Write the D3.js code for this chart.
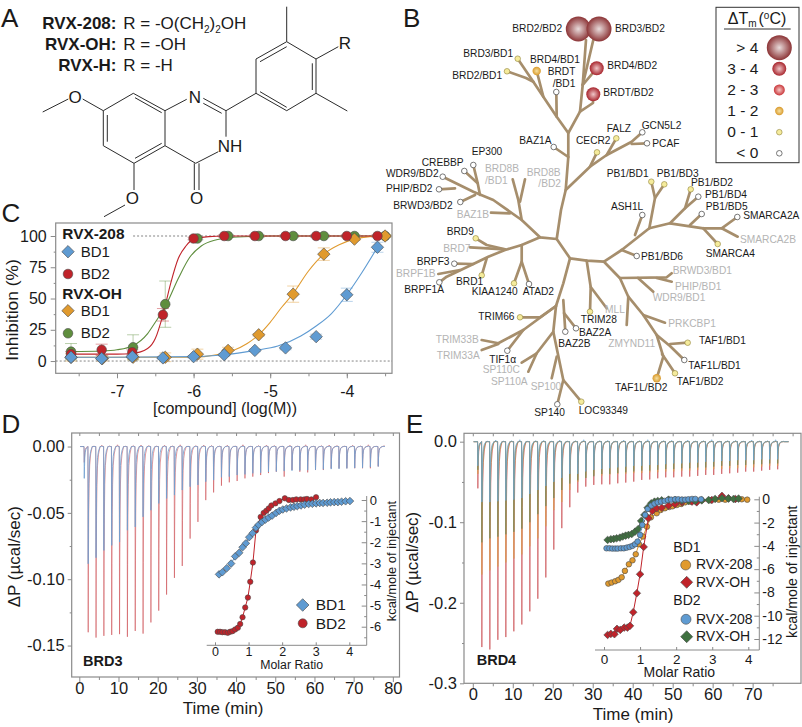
<!DOCTYPE html>
<html>
<head>
  <title>RVX-208 figure</title>
  <script src="https://d3js.org/d3.v7.min.js"></script>
  <style>
    * { margin: 0; box-sizing: border-box; }
    body { background: #fff; }
    svg { display: block; }
    text { font-family: "Liberation Sans", Arial, sans-serif; fill: #1a1a1a; }
    .tick text { font-family: "Liberation Sans", Arial, sans-serif; }
  </style>
</head>
<body>
<script>
// ---- panel C: inhibition curves, log10 concentration vs %
const logConc208 = [-7.6, -7.2, -6.8, -6.4, -6, -5.6, -5.2, -4.8, -4.4, -4, -3.6];
const logConcOH = [-7.6, -7.19, -6.79, -6.37, -5.95, -5.55, -5.15, -4.7, -4.3, -3.9, -3.5];
const inhib208BD1 = [3, 2, 3.5, 2.5, 3.5, 5, 8.5, 10.5, 19.5, 53, 91];
const inhib208BD2 = [5.5, 9, 7, 37, 98, 100, 100, 100, 100, 100, 100];
const inhibOHBD1 = [3, 2, 3, 3, 5.5, 8.5, 21, 53.5, 85.5, 97.5, 100];
const inhibOHBD2 = [7.5, 3, 11, 45.5, 98, 100, 100, 100, 100, 100, 100];
const err208BD1 = [1, 1, 1, 1, 1, 1, 1, 1.5, 2, 5.3, 4];
const err208BD2 = [2, 4.5, 2, 5, 1, 1, 1, 1, 1, 1, 1];
const errOHBD1 = [3, 2, 2, 3.5, 4, 2.5, 1, 6.5, 5, 1, 1];
const errOHBD2 = [6.5, 1, 10, 18.5, 1, 1, 1, 1, 1, 1, 1];
const fit208BD1 = [[-7.6, 3], [-6, 3.5], [-5.6, 5], [-5.2, 8.5], [-4.9, 12], [-4.6, 20], [-4.4, 28], [-4.2, 38], [-4, 53], [-3.8, 71], [-3.6, 91]];
const fit208BD2 = [[-7.6, 5.5], [-7, 5.5], [-6.8, 6], [-6.6, 10], [-6.5, 18], [-6.4, 37], [-6.3, 62], [-6.2, 82], [-6.1, 92], [-6, 97.5], [-5.8, 99.5], [-5.6, 100], [-3.6, 100]];
const fitOHBD1 = [[-7.6, 3], [-6, 3], [-5.7, 5], [-5.5, 8], [-5.3, 14], [-5.15, 21], [-5, 31], [-4.85, 43], [-4.7, 54], [-4.5, 72], [-4.3, 85.5], [-4.1, 93], [-3.9, 97.5], [-3.7, 99.5], [-3.5, 100]];
const fitOHBD2 = [[-7.6, 7.5], [-7.2, 8], [-7, 9], [-6.8, 12], [-6.6, 22], [-6.5, 31], [-6.35, 46], [-6.2, 66], [-6.05, 83], [-5.9, 92], [-5.7, 97], [-5.5, 99], [-5, 100], [-3.5, 100]];

// ---- panel D: BRD3 ITC
const injTimes = [1.2, 2.2, 4.2, 6.2, 8.2, 10.2, 12.2, 14.2, 16.2, 18.2, 20.2, 22.2, 24.2, 26.2, 28.2, 30.2, 32.2, 34.2, 36.2, 38.2, 40.2, 42.2, 44.2, 46.2, 48.2, 50.2, 52.2, 54.2, 56.2, 58.2, 60.2, 62.2, 64.2, 66.2, 68.2, 70.2, 72.2, 74.2, 76.2];
const brd3PeakBD2 = [-.012, -.14, -.144, -.1427, -.142, -.1414, -.1434, -.139, -.141, -.1326, -.1237, -.1116, -.099, -.09, -.0694, -.0568, -.0404, -.0346, -.0295, -.027, -.026, -.024, -.0227, -.0215, -.02, -.019, -.0227, -.0177, -.019, -.0195, -.0177, -.0177, -.0164, -.0164, -.0164, -.0164, -.0164, -.0164, -.015];
const brd3PeakBD1 = [-.024, -.0884, -.0838, -.0783, -.0745, -.072, -.0631, -.0606, -.053, -.048, -.0429, -.0391, -.0366, -.0328, -.0303, -.029, -.0265, -.0253, -.0232, -.0227, -.0215, -.021, -.0202, -.0197, -.0192, -.0188, -.0185, -.0182, -.018, -.0178, -.0175, -.0172, -.017, -.0168, -.0165, -.0162, -.016, -.0155, -.015];
const brd3MolarBD1 = [.12, .22, .35, .48, .6, .72, .82, .92, 1.02, 1.12, 1.22, 1.3, 1.4, 1.5, 1.6, 1.7, 1.82, 1.92, 2.02, 2.13, 2.25, 2.35, 2.45, 2.56, 2.67, 2.79, 2.9, 3.01, 3.12, 3.22, 3.34, 3.44, 3.55, 3.66, 3.77, 3.89, 4.02];
const brd3HeatBD1 = [-3.52, -3.42, -3.23, -3.01, -2.67, -2.5, -2.24, -2.05, -1.76, -1.57, -1.31, -1.17, -1.04, -.93, -.83, -.74, -.61, -.51, -.45, -.4, -.35, -.32, -.29, -.26, -.22, -.19, -.18, -.16, -.14, -.14, -.13, -.11, -.1, -.1, -.08, -.06, -.05];
const brd3MolarBD2 = [.08, .15, .22, .3, .38, .45, .52, .6, .68, .75, .82, .9, .98, 1.05, 1.13, 1.22, 1.36, 1.45, 1.53, 1.6, 1.68, 1.8, 1.92, 2.08, 2.2, 2.32, 2.42, 2.55, 2.66, 2.74, 2.87, 3.01];
const brd3HeatBD2 = [-6.24, -6.24, -6.26, -6.26, -6.29, -6.24, -6.21, -6.13, -6.05, -5.87, -5.55, -5.09, -4.62, -3.87, -2.96, -1.44, -.8, -.61, -.51, -.4, -.26, -.16, -.05, .08, 0, 0, .03, .03, .03, .05, .03, .13];

// ---- panel E: BRD4 ITC
const brd4PeakOHBD1 = [-.058, -.255, -.258, -.246, -.2426, -.2355, -.227, -.2107, -.195, -.1686, -.134, -.1074, -.0814, -.0632, -.0558, -.0537, -.053, -.053, -.0517, -.0508, -.0496, -.0475, -.047, -.0455, -.0443, -.0443, -.0434, -.0434, -.0425, -.0413, -.0413, -.04, -.0393, -.0385, -.0372, -.0372, -.036, -.035, -.0343];
const brd4Peak208BD1 = [-.04, -.165, -.16, -.155, -.15, -.145, -.14, -.13, -.12, -.105, -.085, -.075, -.06, -.05, -.045, -.042, -.042, -.041, -.04, -.04, -.039, -.039, -.038, -.038, -.037, -.037, -.036, -.036, -.035, -.035, -.034, -.034, -.033, -.033, -.032, -.032, -.031, -.03, -.03];
const brd4PeakOHBD2 = [-.035, -.125, -.12, -.118, -.115, -.112, -.108, -.1, -.09, -.08, -.07, -.06, -.052, -.048, -.045, -.043, -.04, -.04, -.039, -.038, -.037, -.036, -.036, -.035, -.034, -.034, -.033, -.033, -.032, -.032, -.031, -.03, -.03, -.029, -.029, -.028, -.028, -.027, -.027];
const brd4Peak208BD2 = [-.03, -.075, -.075, -.074, -.073, -.072, -.07, -.065, -.06, -.055, -.05, -.045, -.04, -.04, -.037, -.035, -.034, -.033, -.032, -.031, -.03, -.03, -.029, -.029, -.028, -.027, -.027, -.026, -.026, -.025, -.025, -.024, -.024, -.023, -.023, -.023, -.022, -.022, -.022];
const brd4Molar208BD1 = [.12, .21, .31, .4, .49, .58, .69, .79, .88, .97, 1.08, 1.19, 1.3, 1.46, 1.57, 1.69, 1.81, 1.9, 2.02, 2.14, 2.25, 2.39, 2.53, 2.71, 2.94, 3.18, 3.36, 3.64, 3.82, 3.97];
const brd4Heat208BD1 = [-7.24, -7.15, -7.04, -6.92, -6.7, -6.15, -5.58, -5.24, -4.72, -3.86, -3.2, -2.35, -1.55, -1.2, -.92, -.77, -.66, -.6, -.49, -.4, -.26, -.2, -.14, -.09, -.09, -.03, -.03, 0, 0, -.03];
const brd4MolarOHBD1 = [.1, .19, .29, .36, .45, .56, .65, .72, .81, .91, 1, 1.1, 1.23, 1.34, 1.46, 1.6, 1.79, 1.97, 2.16, 2.44, 2.57, 2.99, 3.27, 3.45, 3.64];
const brd4HeatOHBD1 = [-11.65, -11.56, -11.59, -11.13, -11.22, -11.02, -11.02, -10.87, -9.7, -8.07, -6.44, -4.09, -1.63, -1, -.77, -.72, -.54, -.43, -.26, -.2, -.26, -.06, .29, .09, .03];
const brd4Molar208BD2 = [.07, .15, .23, .31, .38, .47, .55, .63, .71, .79, .86, .93, 1, 1.06, 1.14, 1.21, 1.31, 1.4, 1.49, 1.58, 1.68, 1.77, 1.86, 1.97, 2.06, 2.16, 2.25, 2.34, 2.44, 2.53, 2.69];
const brd4Heat208BD2 = [-4.21, -4.21, -4.23, -4.23, -4.23, -4.21, -4.21, -4.15, -4.09, -4, -3.86, -3.63, -3.06, -2.2, -1.34, -.83, -.54, -.37, -.26, -.2, -.14, -.06, -.03, 0, 0, -.03, -.03, 0, .03, .03, 0];
const brd4MolarOHBD2 = [.1, .19, .27, .35, .44, .52, .6, .68, .77, .86, .95, 1.03, 1.12, 1.21, 1.31, 1.4, 1.49, 1.6, 1.79, 1.97, 2.16, 2.34, 2.53, 2.71, 2.9, 3.08, 3.27, 3.45, 3.59, 3.73];
const brd4HeatOHBD2 = [-3.49, -3.43, -3.4, -3.35, -3.29, -3.2, -3.12, -3.06, -2.98, -2.78, -2.55, -1.86, -1.34, -.72, -.34, -.2, -.14, -.09, -.03, -.06, -.11, -.14, -.14, -.09, -.06, .03, .09, .06, .03, .06];

// injection shape, fraction of peak depth against minutes after the injection
const peakOffsets = [0, .07, .13, .2, .3, .45, .7, 1.1];
const peakFractions = [0, 1, .62, .36, .2, .1, .04, 0];
// small upward wiggles of the baseline between injections
const baselineWiggleD = [.0008, .0003, .001, .0004, .0013, .0002, .0007, .0011];
const baselineWiggleE = [.0016, .0006, .002, .0008, .0012, .0024, .0005, .0014];

// ---- panel B: kinome style tree, drawing units of the figure
const branches = [
  [[556.7, 239], [561, 210], [565.7, 190], [568.3, 157], [568.3, 133], [580, 111.7], [582.7, 85], [586, 40]],
  [[582.7, 85], [593.3, 40]], [[580, 111.7], [593, 103], [593.3, 94]], [[582.7, 85], [596.7, 68.3]],
  [[568.3, 133], [556.7, 116.7], [543.3, 96.7], [533.3, 81.7], [517.7, 58.7]],
  [[533.3, 81.7], [526, 78], [507, 71.3]], [[543.3, 96.7], [536.7, 71]], [[556.7, 116.7], [556.3, 92]],
  [[568.3, 157], [553.7, 147]],
  [[565.7, 190], [590, 166.7], [606.7, 155], [631.7, 141.7], [642.3, 132.3]],
  [[631.7, 144], [647, 143.3]], [[606.7, 155], [616.3, 138.3]], [[590, 166.7], [597, 152.3]],
  [[556.7, 239], [540, 237.3], [521.7, 220], [493.3, 200], [473.3, 191.7], [442.7, 176.7]],
  [[455, 188.3], [439, 189.3]], [[480, 195], [477.7, 183.3], [464.3, 171]], [[477.7, 183.3], [473.3, 165]],
  [[475, 195], [460.3, 202]], [[510, 213.3], [491, 212.7]],
  [[521.7, 220], [518.3, 200], [512.7, 179.3]], [[520, 201.7], [525, 179.3]],
  [[540, 237.3], [521.7, 245], [505, 250], [488.3, 256.7], [473.3, 264], [446.7, 276.7], [439.3, 282.3]],
  [[505, 249.3], [486.7, 245], [475.7, 238.3]], [[505, 249.3], [470, 247.3]],
  [[473.3, 264], [454.3, 263.7]], [[460, 270], [438.3, 274]], [[486.7, 258.3], [481.7, 275.3]],
  [[521.7, 245], [521.7, 261.7], [514, 283.3]], [[521.7, 261.7], [529, 284]],
  [[556.7, 239], [570, 258.3], [586.7, 260.7], [604, 261.7], [621.7, 250], [649.3, 228.3], [670, 223.3], [703.3, 228.3], [721.7, 228.3], [737.3, 217]],
  [[635, 235], [642.3, 215]], [[649.3, 228.3], [655, 198], [651.3, 181.7]], [[655, 198], [664.3, 184.3]],
  [[670, 223.3], [685, 208.3], [690.7, 189.3]], [[685, 208.3], [698.3, 196.7]], [[690, 225], [701.7, 214]],
  [[721.7, 228.3], [737.7, 236.7]], [[703.3, 228.3], [717.7, 244]], [[621.7, 250], [636.7, 256]],
  [[604, 261.7], [620, 278.3], [628.3, 296.7], [643.3, 315], [656.7, 335], [670, 346], [684.3, 360]],
  [[620, 278], [666.7, 277.3], [671.7, 273.3]], [[656.7, 278], [671.7, 281.7]], [[638, 278], [653.3, 291.7]],
  [[628.3, 296.7], [626.7, 325]], [[643.3, 315], [665, 322.7]], [[670, 344], [687.7, 342.7]],
  [[656.7, 335], [663.3, 356.7], [656.7, 378.3]], [[662, 354], [675, 373.3]],
  [[570, 258.3], [563.3, 283.3], [556, 306], [553.3, 331.7], [563.3, 380], [557.3, 404.3]], [[563.3, 380], [581.3, 401.7]],
  [[563.3, 300], [565.3, 331.7]], [[564, 313], [576, 328.3]],
  [[586.7, 260.7], [590.7, 287], [590, 311.7]], [[590.7, 287], [606.7, 308.3]],
  [[556, 306], [540, 317.3], [520, 317.3]], [[556, 306], [523.3, 330], [498.3, 343.3], [481.7, 340]], [[498.3, 344], [481.7, 350]],
  [[523.3, 330], [507.3, 350.7]], [[553.3, 331.7], [536.7, 353.3], [521.7, 362.7]], [[536.7, 353.3], [528.3, 371.7]],
  [[556.7, 356.7], [551.7, 378.3]]
];
// x, y, size class: 0 white, 1 yellow, 2 orange, 4 dark red, 5 big ball
const treeNodes = [
  [578.3, 29, 5], [599, 29, 5], [596.7, 68.3, 4], [593.3, 94.3, 4], [517.7, 58.7, 1], [507, 71.3, 1], [536.7, 71, 2], [556.3, 92, 0],
  [553.7, 147, 0], [597, 152.3, 1], [616.3, 138.3, 1], [642.3, 132.3, 0], [647, 143.3, 0],
  [473.3, 165, 0], [464.3, 171, 0], [442.7, 176.7, 0], [439, 189.3, 0], [460.3, 202, 0],
  [475.7, 238.3, 1], [454.3, 263.7, 0], [481.7, 275.3, 1], [439.3, 282.3, 0], [514, 283.3, 1], [529, 284, 0],
  [651.3, 181.7, 1], [664.3, 184.3, 1], [690.7, 189.3, 1], [698.3, 196.7, 0], [701.7, 214, 0], [642.3, 215, 0], [737.3, 217, 0], [717.7, 244, 1], [636.7, 256, 0],
  [590, 311.7, 1], [576, 328.3, 0], [565.3, 331.7, 0], [520, 317.3, 1], [507.3, 350.7, 0], [557.3, 404.3, 0], [581.3, 401.7, 1],
  [687.7, 342.7, 1], [684.3, 360, 0], [675, 373.3, 1], [656.7, 378.3, 2]
];
const treeNames = ["BRD2/BD2", "BRD3/BD2", "BRD3/BD1", "BRD2/BD1", "BRD4/BD1", "BRDT", "/BD1", "BRD4/BD2", "BRDT/BD2", "FALZ", "GCN5L2", "PCAF", "BAZ1A", "CECR2", "EP300", "CREBBP", "WDR9/BD2", "PHIP/BD2", "BRWD3/BD2", "BRD9", "BRPF3", "BRPF1A", "BRD1", "KIAA1240", "ATAD2", "PB1/BD1", "PB1/BD3", "PB1/BD2", "PB1/BD4", "PB1/BD5", "ASH1L", "SMARCA2A", "SMARCA4", "PB1/BD6", "TRIM28", "BAZ2A", "BAZ2B", "TAF1/BD1", "TAF1L/BD1", "TAF1/BD2", "TAF1L/BD2", "TRIM66", "TIF1α", "SP140", "LOC93349"];
const treeNamePos = [[512.3, 32.3], [615, 32.3], [463.3, 56.7], [452.3, 79.3], [530, 63.3], [547.7, 75], [552.7, 87.3], [607.3, 69], [603.3, 96], [606.7, 132.3], [641.7, 129], [652.3, 146.7], [519.3, 144.3], [576, 144.3], [471.7, 155.3], [421.7, 165.7], [386, 177.3], [386, 191.7], [393.3, 209.3], [446.7, 235], [416.7, 265.3], [404.3, 293.3], [456, 285], [471.7, 295.3], [522.7, 295.3], [606.7, 177.3], [656.7, 176.7], [691, 185.7], [705, 197.7], [705.7, 210], [611, 209.7], [743.3, 218.7], [705.7, 257], [641, 259.7], [580.7, 323.3], [579, 336], [558.3, 346.7], [699, 344.3], [688.3, 368.7], [676.7, 385.3], [615, 391.3], [478.3, 320], [489.3, 363.3], [534.3, 416], [578.7, 414.3]];
const grayNames = ["BRD8B", "/BD1", "BRD8B", "/BD2", "BAZ1B", "BRD7", "BRPF1B", "SMARCA2B", "BRWD3/BD1", "PHIP/BD1", "WDR9/BD1", "MLL", "PRKCBP1", "ZMYND11", "TRIM33B", "TRIM33A", "SP110C", "SP110A", "SP100"];
const grayNamePos = [[485, 172.3], [485, 184.3], [526.7, 175.7], [538.3, 187.3], [456.7, 218], [443.3, 252], [396, 277], [740, 243.3], [672.7, 274], [675, 290], [652.7, 300.7], [605, 312.7], [668.3, 327], [608.3, 346.7], [435.7, 343.3], [436.7, 359.3], [482.7, 373.3], [491, 385.3], [530.7, 390]];
const legendRanges = ["> 4", "3 - 4", "2 - 3", "1 - 2", "0 - 1", "< 0"];
const legendClasses = [5, 4, 3, 2, 1, 0];

// ---- panel A: structure, drawing units of the figure
const singleBonds = [
  [[286.7, 41.7], [316, 59]], [[316, 59], [316, 93.3]], [[316, 93.3], [286.7, 110.7]], [[286.7, 110.7], [256, 93.3]], [[256, 93.3], [256, 59]], [[256, 59], [286.7, 41.7]],
  [[286.7, 41.7], [286.7, 6.7]], [[316, 59], [338.3, 46.7]], [[316, 93.3], [347.3, 111]], [[256, 93.3], [226, 110.7]],
  [[226, 110.7], [203.3, 98.3]], [[186.7, 99.3], [165, 110.7]], [[226, 110.7], [226, 136.7]], [[218.3, 151.7], [195.7, 163.3]],
  [[195.7, 163.3], [165, 145.7]], [[165, 145.7], [165, 110.7]], [[165, 110.7], [133.3, 93.3]], [[133.3, 93.3], [103.3, 110.7]],
  [[103.3, 110.7], [103.3, 145.7]], [[103.3, 145.7], [134, 163.3]], [[134, 163.3], [165, 145.7]],
  [[103.3, 110.7], [82.7, 99]], [[68.3, 99], [42.7, 112]], [[134, 163.3], [134, 190]], [[125, 205], [104, 216.7]],
  [[194.3, 163.3], [194.3, 190]], [[199, 163.3], [199, 190]]
];
const innerBonds = [
  [[260, 61.7], [286.7, 46.7]], [[312.3, 63.3], [312.3, 90]], [[260, 91.7], [286.7, 107.3]], [[203.3, 103.3], [221.7, 113.3]],
  [[135, 97.7], [161.7, 112.7]], [[107.3, 115], [107.3, 141.7]], [[135, 158.3], [161.7, 143.3]]
];
const atomLabels = ["O", "N", "NH", "O", "O", "R"];
const atomPos = [[75, 96.7], [195, 96.7], [230, 145.7], [132.3, 198.3], [196.7, 198.3], [345, 43.3]];

const width = 802, height = 727;
const svg = d3.select("body").append("svg").attr("width", width).attr("height", height);
const defs = svg.append("defs");

const colBlue = "#5f9bd2", colRed = "#c0232a", colOrange = "#e09a2e", colGreen = "#5f8e3e", colDkGreen = "#3f7040";
const frameCol = "#8a8a8a";
const markStroke = "#4a4a4a";

function label(g, str, x, y, size, opts = {}) {
  return g.append("text").attr("x", x).attr("y", y).attr("font-size", size)
    .attr("text-anchor", opts.anchor || "start")
    .attr("font-weight", opts.bold ? "bold" : null)
    .style("fill", opts.fill || null)
    .text(str);
}
function vlabel(g, str, x, y, size) {
  return g.append("text").attr("transform", `translate(${x},${y}) rotate(-90)`)
    .attr("font-size", size).attr("text-anchor", "middle").text(str);
}
function marker(g, kind, x, y, size, fill) {
  if (kind === "circle") {
    g.append("circle").attr("cx", x).attr("cy", y).attr("r", size).attr("fill", fill)
      .attr("stroke", markStroke).attr("stroke-width", .6);
  } else {
    const side = size * Math.SQRT2;
    g.append("path").attr("d", d3.symbol().type(d3.symbolSquare).size(side * side)())
      .attr("transform", `translate(${x},${y}) rotate(45)`).attr("fill", fill)
      .attr("stroke", markStroke).attr("stroke-width", .6);
  }
}
function styleAxis(sel, size) {
  sel.attr("font-size", size).attr("font-family", null);
  sel.selectAll(".domain").remove();
  sel.selectAll("line").attr("stroke", frameCol);
  sel.selectAll("text").style("fill", "#1a1a1a");
}
const arange = (a, b, s) => d3.range(0, Math.round((b - a) / s) + 1).map(i => a + i * s);
const intFmt = d3.format("d");

// panel letters
[["A", 1, 26.7], ["B", 403, 26.7], ["C", 1.5, 222], ["D", 1.5, 433], ["E", 406, 433]].forEach(([s, x, y]) => label(svg, s, x, y, 26));

// ================= A
const mol = svg.append("g");
const mx = d3.scaleIdentity(), my = d3.scaleIdentity();
const bondLine = d3.line().x(d => mx(d[0])).y(d => my(d[1]));
mol.selectAll("path.b").data(singleBonds.concat(innerBonds)).enter().append("path")
  .attr("d", bondLine).attr("fill", "none").attr("stroke", "#2b2b2b").attr("stroke-width", 1);
atomLabels.forEach((s, i) => {
  label(mol, s, mx(atomPos[i][0]), my(atomPos[i][1]) + 6, 17, { anchor: "middle" });
});
label(svg, "RVX-208:", 116.5, 29.3, 17, { anchor: "end", bold: true });
label(svg, "RVX-OH:", 116.5, 50, 17, { anchor: "end", bold: true });
label(svg, "RVX-H:", 116.5, 70.7, 17, { anchor: "end", bold: true });
const rt = label(svg, "R = -O(CH", 123.3, 29.3, 17);
rt.append("tspan").attr("dy", 4).attr("font-size", 10).text("2");
rt.append("tspan").attr("dy", -4).text(")");
rt.append("tspan").attr("dy", 4).attr("font-size", 10).text("2");
rt.append("tspan").attr("dy", -4).text("OH");
label(svg, "R = -OH", 123.3, 50, 17);
label(svg, "R = -H", 123.3, 70.7, 17);

// ================= B
function ball(id, inner, outer) {
  const g = defs.append("radialGradient").attr("id", id);
  g.append("stop").attr("offset", "0%").attr("stop-color", inner);
  g.append("stop").attr("offset", "100%").attr("stop-color", outer);
}
ball("cls5", "#e9dcdc", "#8c3436");
ball("cls4", "#efc6c8", "#a8252d");
ball("cls3", "#f6c9c6", "#c9363a");
ball("cls2", "#f6e0a0", "#d99a2c");
const classR = { 5: 12.5, 4: 7, 3: 5.5, 2: 4.2, 1: 2.8, 0: 2.8 };
function treeDot(g, x, y, c) {
  const dot = g.append("circle").attr("cx", x).attr("cy", y).attr("r", classR[c]);
  if (c >= 2) dot.attr("fill", `url(#cls${c})`).attr("stroke", "none");
  else if (c === 1) dot.attr("fill", "#f5eb9c").attr("stroke", "#8e8238").attr("stroke-width", .6);
  else dot.attr("fill", "#fff").attr("stroke", "#555").attr("stroke-width", .8);
}
const tree = svg.append("g");
const tx = d3.scaleIdentity(), ty = d3.scaleIdentity();
const branchLine = d3.line().x(d => tx(d[0])).y(d => ty(d[1]));
tree.selectAll("path").data(branches).enter().append("path")
  .attr("d", branchLine).attr("fill", "none").attr("stroke", "#a68e6c").attr("stroke-width", 2.7)
  .attr("stroke-linecap", "round").attr("stroke-linejoin", "round");
treeNodes.forEach(n => treeDot(tree, tx(n[0]), ty(n[1]), n[2]));
treeNames.forEach((s, i) => label(tree, s, tx(treeNamePos[i][0]), ty(treeNamePos[i][1]), 10.2));
grayNames.forEach((s, i) => label(tree, s, tx(grayNamePos[i][0]), ty(grayNamePos[i][1]), 10.2, { fill: "#b4b4b4" }));

const lg = svg.append("g");
lg.append("rect").attr("x", 716).attr("y", 7.3).attr("width", 83).attr("height", 155.4)
  .attr("fill", "#fff").attr("stroke", "#333").attr("stroke-width", 1);
const lh = label(lg, "ΔT", 757, 24, 16, { anchor: "middle" });
lh.append("tspan").attr("dy", 3).attr("font-size", 10).text("m");
lh.append("tspan").attr("dy", -3).attr("dx", 2).text("(");
lh.append("tspan").attr("dy", -5).attr("font-size", 10).text("o");
lh.append("tspan").attr("dy", 5).text("C)");
lg.append("line").attr("x1", 724).attr("x2", 790.7).attr("y1", 29).attr("y2", 29).attr("stroke", "#333");
const legendY = d3.scalePoint().domain(legendRanges).range([47.7, 153.3]);
legendRanges.forEach((s, i) => {
  label(lg, s, 758.3, legendY(s) + 5, 15.5, { anchor: "end" });
  treeDot(lg, 779.3, legendY(s), legendClasses[i]);
});

// ================= C
const cx = d3.scaleLinear().domain([-7.8, -3.41]).range([55.7, 392]);
const cy = d3.scaleLinear().domain([-9.8, 110.4]).range([373.3, 223]);
const pc = svg.append("g");
pc.append("rect").attr("x", 55.7).attr("y", 223).attr("width", 336.3).attr("height", 150.3)
  .attr("fill", "none").attr("stroke", frameCol).attr("stroke-width", 1.2);
[[0, -7.8], [100, -6.79]].forEach(([v, from]) => {
  pc.append("line").attr("x1", cx(from)).attr("x2", cx(-3.41)).attr("y1", cy(v)).attr("y2", cy(v))
    .attr("stroke", "#666").attr("stroke-width", .8).attr("stroke-dasharray", "2,2");
});
const cxTickLabels = ["-7", "-6", "-5", "-4"];
pc.append("g").attr("transform", "translate(0,373.3)")
  .call(d3.axisBottom(cx).tickValues(arange(-7.5, -3.5, .5)).tickSize(3).tickFormat(""))
  .call(styleAxis, 16);
pc.append("g").attr("transform", "translate(0,373.3)")
  .call(d3.axisBottom(cx).tickValues([-7, -6, -5, -4]).tickSize(5).tickPadding(7).tickFormat((d, i) => cxTickLabels[i]))
  .call(styleAxis, 16);
pc.append("g").attr("transform", "translate(55.7,0)")
  .call(d3.axisLeft(cy).tickValues(arange(12.5, 87.5, 25)).tickSize(2).tickFormat(""))
  .call(styleAxis, 16);
pc.append("g").attr("transform", "translate(55.7,0)")
  .call(d3.axisLeft(cy).tickValues([0, 25, 50, 75, 100]).tickSize(5).tickPadding(4))
  .call(styleAxis, 16);
vlabel(pc, "Inhibition (%)", 18, 310, 17.4);
label(pc, "[compound] (log(M))", 225, 414, 16, { anchor: "middle" });

const fitLine = d3.line().x(d => cx(d[0])).y(d => cy(d[1])).curve(d3.curveMonotoneX);
const cSeries = [
  { fit: fitOHBD2, xs: logConcOH, ys: inhibOHBD2, err: errOHBD2, col: colGreen, kind: "circle" },
  { fit: fitOHBD1, xs: logConcOH, ys: inhibOHBD1, err: errOHBD1, col: colOrange, kind: "diamond" },
  { fit: fit208BD2, xs: logConc208, ys: inhib208BD2, err: err208BD2, col: colRed, kind: "circle" },
  { fit: fit208BD1, xs: logConc208, ys: inhib208BD1, err: err208BD1, col: colBlue, kind: "diamond" }
];
cSeries.forEach(s => {
  pc.append("path").attr("d", fitLine(s.fit)).attr("fill", "none").attr("stroke", s.col).attr("stroke-width", 1.1);
  s.xs.forEach((x, i) => {
    const top = cy(s.ys[i] + s.err[i]), bot = cy(s.ys[i] - s.err[i]);
    pc.append("path").attr("d", `M${cx(x)},${top}V${bot}M${cx(x) - 6},${top}H${cx(x) + 6}M${cx(x) - 6},${bot}H${cx(x) + 6}`)
      .attr("fill", "none").attr("stroke", s.col).attr("stroke-opacity", .55).attr("stroke-width", .8);
  });
});
cSeries.forEach(s => {
  s.xs.forEach((x, i) => {
    if (s.fit === fitOHBD2 && i === 1) return;
    marker(pc, s.kind, cx(x), cy(s.ys[i]), s.kind === "circle" ? 4.8 : 6.2, s.col);
  });
});
label(pc, "RVX-208", 62.3, 239.3, 15.4, { bold: true });
label(pc, "RVX-OH", 62.3, 299, 15.4, { bold: true });
marker(pc, "diamond", 68, 251.7, 6.2, colBlue); label(pc, "BD1", 80.7, 256.7, 15);
marker(pc, "circle", 68, 274, 4.8, colRed); label(pc, "BD2", 80.7, 279, 15);
marker(pc, "diamond", 68, 310.7, 6.2, colOrange); label(pc, "BD1", 80.7, 315.7, 15);
marker(pc, "circle", 68, 333.3, 4.8, colGreen); label(pc, "BD2", 80.7, 338.3, 15);

// ================= ITC helpers
function thermogram(depths, wiggles, tEnd) {
  const pts = [[.2, 0]];
  depths.forEach((d, i) => {
    const t = injTimes[i];
    const next = i + 1 < injTimes.length ? injTimes[i + 1] : tEnd;
    peakOffsets.forEach((o, k) => { if (t + o < next - .05) pts.push([t + o, d * peakFractions[k]]); });
    if (next - t > 1.6) {
      pts.push([t + 1.3, 0]);
      pts.push([t + 1.55, wiggles[i % wiggles.length]]);
      pts.push([t + 1.8, 0]);
    }
  });
  pts.push([tEnd, 0]);
  return pts;
}
function scatter(g, xs, ys, sx, sy, kind, col, r, stroke) {
  const line = d3.line().x(d => sx(d[0])).y(d => sy(d[1]));
  g.append("path").attr("d", line(xs.map((x, i) => [x, ys[i]])))
    .attr("fill", "none").attr("stroke", stroke || col).attr("stroke-width", 1);
  xs.forEach((x, i) => marker(g, kind, sx(x), sy(ys[i]), r, col));
}

// ================= D
const dx = d3.scaleLinear().domain([-1.94, 81.7]).range([71.7, 399.5]);
const dy = d3.scaleLinear().domain([-.1737, .0102]).range([677, 433]);
const pd = svg.append("g");
pd.append("rect").attr("x", 71.7).attr("y", 433).attr("width", 327.8).attr("height", 244)
  .attr("fill", "none").attr("stroke", frameCol).attr("stroke-width", 1.2);
pd.append("g").attr("transform", "translate(0,677)")
  .call(d3.axisBottom(dx).tickValues(arange(5, 75, 10)).tickSize(3).tickFormat(""))
  .call(styleAxis, 16.5);
pd.append("g").attr("transform", "translate(0,677)")
  .call(d3.axisBottom(dx).tickValues(arange(0, 80, 10)).tickSize(5).tickPadding(0))
  .call(styleAxis, 16.5);
pd.append("g").attr("transform", "translate(0,433)")
  .call(d3.axisTop(dx).tickValues(arange(0, 80, 5)).tickSize(-3).tickFormat(""))
  .call(styleAxis, 16.5);
pd.append("g").attr("transform", "translate(71.7,0)")
  .call(d3.axisLeft(dy).tickValues(arange(-.125, -.025, .05)).tickSize(2).tickFormat(""))
  .call(styleAxis, 16.5);
const dyLabels = ["-0.15", "-0.10", "-0.05", "0.00"];
pd.append("g").attr("transform", "translate(71.7,0)")
  .call(d3.axisLeft(dy).tickValues([-.15, -.1, -.05, 0]).tickSize(4).tickPadding(3).tickFormat((d, i) => dyLabels[i]))
  .call(styleAxis, 16.5);
vlabel(pd, "ΔP (µcal/sec)", 20, 556.7, 17);
label(pd, "Time (min)", 223, 714, 17, { anchor: "middle" });
label(pd, "BRD3", 83, 666, 14.5, { bold: true });

const dLine = d3.line().x(d => dx(d[0])).y(d => dy(d[1]));
pd.append("path").attr("d", dLine(thermogram(brd3PeakBD2, baselineWiggleD, 78)))
  .attr("fill", "none").attr("stroke", "#cc4a4e").attr("stroke-width", .75).attr("stroke-opacity", .75);
pd.append("path").attr("d", dLine(thermogram(brd3PeakBD1, baselineWiggleD.map(v => v * .2), 78)))
  .attr("fill", "none").attr("stroke", "#6f9fd0").attr("stroke-width", .9).attr("stroke-opacity", .9);

const dix = d3.scaleLinear().domain([0, 4]).range([215, 349.3]);
const diy = d3.scaleLinear().domain([-6.88, .19]).range([645.3, 496]);
const dIn = svg.append("g");
dIn.append("path").attr("d", "M206.7,645.3H366.7V496").attr("fill", "none").attr("stroke", frameCol).attr("stroke-width", 1);
dIn.append("g").attr("transform", "translate(0,645.3)")
  .call(d3.axisBottom(dix).tickValues([0, 1, 2, 3, 4]).tickSize(-3).tickPadding(2).tickFormat(intFmt))
  .call(styleAxis, 12.5);
dIn.append("g").attr("transform", "translate(366.7,0)")
  .call(d3.axisRight(diy).tickValues(arange(-6.5, -.5, 1)).tickSize(-2.5).tickFormat(""))
  .call(styleAxis, 13);
const diyLabels = ["-6", "-5", "-4", "-3", "-2", "-1", "0"];
dIn.append("g").attr("transform", "translate(366.7,0)")
  .call(d3.axisRight(diy).tickValues([-6, -5, -4, -3, -2, -1, 0]).tickSize(-5).tickPadding(3).tickFormat((d, i) => diyLabels[i]))
  .call(styleAxis, 13);
vlabel(dIn, "kcal/mole of injectant", 395.5, 561, 12.9);
label(dIn, "Molar Ratio", 291.7, 669.3, 12.3, { anchor: "middle" });
scatter(dIn, brd3MolarBD2, brd3HeatBD2, dix, diy, "circle", colRed, 2.7);
scatter(dIn, brd3MolarBD1, brd3HeatBD1, dix, diy, "diamond", colBlue, 3.8);
marker(dIn, "diamond", 302.7, 605, 6.3, colBlue); label(dIn, "BD1", 315.7, 610, 15.5);
marker(dIn, "circle", 302.7, 623.3, 4.5, colRed); label(dIn, "BD2", 315.7, 629.3, 15.5);

// ================= E
const ex = d3.scaleLinear().domain([-2.2, 82.1]).range([464, 801]);
const ey = d3.scaleLinear().domain([-.3, .0104]).range([683.3, 433.3]);
const pe = svg.append("g");
pe.append("rect").attr("x", 464).attr("y", 433.3).attr("width", 337).attr("height", 250)
  .attr("fill", "none").attr("stroke", frameCol).attr("stroke-width", 1.2);
pe.append("g").attr("transform", "translate(0,683.3)")
  .call(d3.axisBottom(ex).tickValues(arange(5, 75, 10)).tickSize(3).tickFormat(""))
  .call(styleAxis, 16.5);
pe.append("g").attr("transform", "translate(0,683.3)")
  .call(d3.axisBottom(ex).tickValues(arange(0, 70, 10)).tickSize(5).tickPadding(0))
  .call(styleAxis, 16.5);
pe.append("g").attr("transform", "translate(0,433.3)")
  .call(d3.axisTop(ex).tickValues(arange(0, 80, 5)).tickSize(-3).tickFormat(""))
  .call(styleAxis, 16.5);
pe.append("g").attr("transform", "translate(464,0)")
  .call(d3.axisLeft(ey).tickValues(arange(-.25, -.05, .1)).tickSize(2).tickFormat(""))
  .call(styleAxis, 16.5);
const eyLabels = ["-0.3", "-0.2", "-0.1", "0.0"];
pe.append("g").attr("transform", "translate(464,0)")
  .call(d3.axisLeft(ey).tickValues([-.3, -.2, -.1, 0]).tickSize(4).tickPadding(3).tickFormat((d, i) => eyLabels[i]))
  .call(styleAxis, 16.5);
vlabel(pe, "ΔP (µcal/sec)", 418, 562.3, 17);
label(pe, "Time (min)", 633, 720, 17, { anchor: "middle" });
label(pe, "BRD4", 476.7, 665.3, 14.5, { bold: true });

const eLine = d3.line().x(d => ex(d[0])).y(d => ey(d[1]));
[[brd4PeakOHBD1, "#c8474c", .1], [brd4Peak208BD1, "#d89a4a", .2], [brd4PeakOHBD2, "#6f8a5a", .2], [brd4Peak208BD2, "#6aa8da", 1]].forEach(([vals, col, k]) => {
  pe.append("path").attr("d", eLine(thermogram(vals, baselineWiggleE.map(v => v * k), 79)))
    .attr("fill", "none").attr("stroke", col).attr("stroke-width", .8).attr("stroke-opacity", .85);
});

const eix = d3.scaleLinear().domain([0, 4]).range([604, 748.3]);
const eiy = d3.scaleLinear().domain([-12, 0]).range([639, 499.3]);
const eIn = svg.append("g");
eIn.append("path").attr("d", "M595,650H759.3V496.7").attr("fill", "none").attr("stroke", frameCol).attr("stroke-width", 1);
eIn.append("g").attr("transform", "translate(0,650)")
  .call(d3.axisBottom(eix).tickValues([0, 1, 2, 3, 4]).tickSize(-3).tickPadding(4).tickFormat(intFmt))
  .call(styleAxis, 13.5);
eIn.append("g").attr("transform", "translate(759.3,0)")
  .call(d3.axisRight(eiy).tickValues(arange(-11, -1, 2)).tickSize(-2.5).tickFormat(""))
  .call(styleAxis, 14);
const eiyLabels = ["-12", "-10", "-8", "-6", "-4", "-2", "0"];
eIn.append("g").attr("transform", "translate(759.3,0)")
  .call(d3.axisRight(eiy).tickValues([-12, -10, -8, -6, -4, -2, 0]).tickSize(-5).tickPadding(3).tickFormat((d, i) => eiyLabels[i]))
  .call(styleAxis, 14);
vlabel(eIn, "kcal/mole of injectant", 796.7, 571.7, 14.2);
label(eIn, "Molar Ratio", 679.3, 676.7, 14, { anchor: "middle" });
scatter(eIn, brd4Molar208BD1, brd4Heat208BD1, eix, eiy, "circle", colOrange, 2.8);
scatter(eIn, brd4MolarOHBD1, brd4HeatOHBD1, eix, eiy, "diamond", colRed, 3.8);
scatter(eIn, brd4MolarOHBD2, brd4HeatOHBD2, eix, eiy, "diamond", colDkGreen, 3.8);
scatter(eIn, brd4Molar208BD2, brd4Heat208BD2, eix, eiy, "circle", colBlue, 2.8);
label(eIn, "BD1", 673.3, 551.7, 14);
marker(eIn, "circle", 685.7, 565, 5, colOrange); label(eIn, "RVX-208", 696, 569, 14);
marker(eIn, "diamond", 686.7, 582.3, 6, colRed); label(eIn, "RVX-OH", 696, 586.7, 14);
label(eIn, "BD2", 673.3, 605, 14);
marker(eIn, "circle", 686, 619.3, 5, colBlue); label(eIn, "RVX-208", 696, 624, 14);
marker(eIn, "diamond", 686.7, 636.7, 6, colDkGreen); label(eIn, "RVX-OH", 696, 640.7, 14);
</script>
</body>
</html>
